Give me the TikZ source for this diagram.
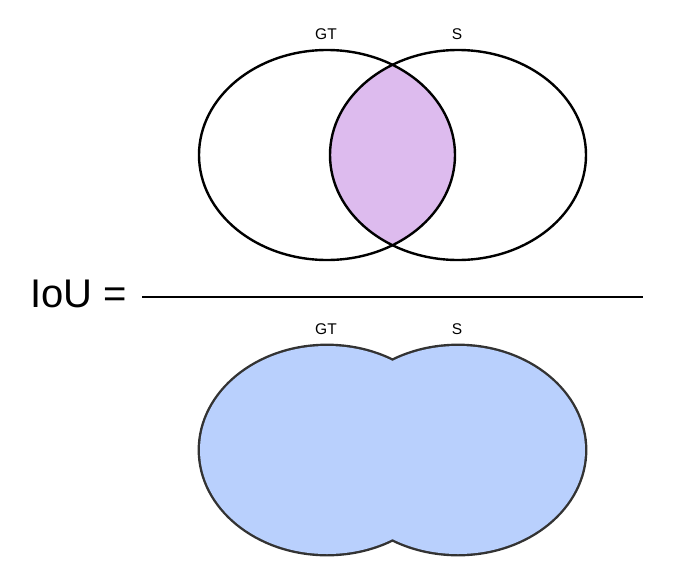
\documentclass[tikz,border=0pt]{standalone}
\usepackage{fontspec}
\setmainfont{Liberation Sans}
\usetikzlibrary{positioning}
\definecolor{inter}{RGB}{221,187,238}
\definecolor{union}{RGB}{185,208,253}
\definecolor{rim}{RGB}{51,51,51}

\begin{document}
\begin{tikzpicture}[x=1pt, y=-1pt, line width=2.4pt,
    lbl/.style={font=\fontsize{15.5}{18}\selectfont, anchor=base, inner sep=0pt}]
  \useasboundingbox (0,0) rectangle (696,587);
  % numerator: intersection
  \begin{scope}
  \coordinate (gt) at (327,155);
  \coordinate (s) at (458,155);
  \begin{scope}
    \clip (gt) ellipse [x radius=128, y radius=105];
    \fill[inter] (s) ellipse [x radius=128, y radius=105];
  \end{scope}
  \draw (gt) ellipse [x radius=128, y radius=105];
  \draw (s) ellipse [x radius=128, y radius=105];
  \node[lbl] (gtlbl) at (326,39) {GT};
  \node[lbl] (slbl) at (457,39) {S};
  \end{scope}
  % fraction bar
  \node[anchor=base west, inner sep=0pt, font=\fontsize{40}{48}\selectfont] (iou) at (29,307) {IoU =};
  \coordinate (barstart) at (142,297);
  \coordinate (barend) at (643,297);
  \draw (barstart) -- (barend);
  % denominator: union
  \begin{scope}[shift={(0,295)}]
  \coordinate (gt) at (327,155);
  \coordinate (s) at (458,155);
  \draw[rim, line width=4.8pt] (gt) ellipse [x radius=127, y radius=104];
  \draw[rim, line width=4.8pt] (s) ellipse [x radius=127, y radius=104];
  \fill[union] (gt) ellipse [x radius=127, y radius=104];
  \fill[union] (s) ellipse [x radius=127, y radius=104];
  \node[lbl] (gtlbl) at (326,39) {GT};
  \node[lbl] (slbl) at (457,39) {S};
  \end{scope}
\end{tikzpicture}
\end{document}
